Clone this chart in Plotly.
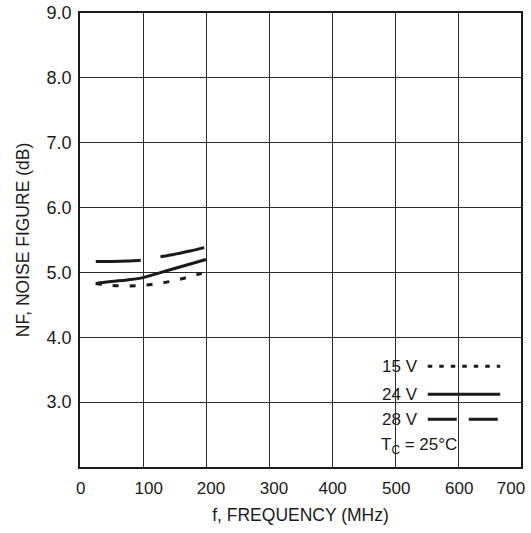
import plotly.graph_objects as go

# ---- data ----
freq_mhz = [25, 50, 75, 100, 125, 150, 175, 200]
nf_15v = [4.83, 4.80, 4.79, 4.80, 4.83, 4.875, 4.935, 5.01]
nf_24v = [4.83, 4.86, 4.885, 4.92, 4.99, 5.06, 5.13, 5.20]
nf_28v = [5.17, 5.17, 5.175, 5.19, 5.235, 5.28, 5.33, 5.39]
series_names = ["15 V", "24 V", "28 V"]
x_tick_vals = [0, 100, 200, 300, 400, 500, 600, 700]
x_tick_text = ["0", "100", "200", "300", "400", "500", "600", "700"]
y_tick_vals = [3, 4, 5, 6, 7, 8, 9]
y_tick_text = ["3.0", "4.0", "5.0", "6.0", "7.0", "8.0", "9.0"]

FONT = "Liberation Sans, Arial, sans-serif"
INK = "#1a1a1a"
FS = 17

dashes = ["6px,11px", "solid", "45px,20px"]
legend_dashes = ["4.5px,7px", "solid", "29px,12px"]
series = [nf_15v, nf_24v, nf_28v]

fig = go.Figure()
for name, vals, d in zip(series_names, series, dashes):
    fig.add_trace(go.Scatter(
        x=freq_mhz, y=vals, mode="lines", name=name,
        line=dict(color=INK, width=3, dash=d, shape="spline"),
        showlegend=False, hoverinfo="skip"))

# invisible helper trace on the label axis so it renders
fig.add_trace(go.Scatter(x=[None], y=[None], xaxis="x2", yaxis="y",
                         showlegend=False, hoverinfo="skip"))

# white box behind the legend block (hides grid lines)
fig.add_shape(type="rect", xref="x", yref="y", x0=466, x1=692, y0=2.12, y1=3.72,
              fillcolor="white", line=dict(width=0), layer="below")
fig.add_shape(type="rect", xref="x", yref="y", x0=466, x1=540, y0=3.6, y1=3.92,
              fillcolor="white", line=dict(width=0), layer="below")

# legend rows: text + line sample
leg_y = [3.554, 3.123, 2.738]
for name, yy, d in zip(series_names, leg_y, legend_dashes):
    fig.add_annotation(x=540, y=yy, xref="x", yref="y", text=name, showarrow=False,
                       xanchor="right", yanchor="middle",
                       font=dict(family=FONT, size=FS, color=INK))
    fig.add_shape(type="line", xref="x", yref="y", x0=552, x1=667, y0=yy, y1=yy,
                  line=dict(color=INK, width=3, dash=d), layer="above")
fig.add_annotation(x=474, y=2.32, xref="x", yref="y",
                   text="T<sub>C</sub> = 25°C", showarrow=False,
                   xanchor="left", yanchor="middle",
                   font=dict(family=FONT, size=FS, color=INK))

fig.update_layout(
    width=531, height=533,
    margin=dict(l=80, r=10, t=13, b=66, autoexpand=False),
    paper_bgcolor="white", plot_bgcolor="white",
    font=dict(family=FONT, size=FS, color=INK),
    showlegend=False,
    xaxis=dict(
        range=[0, 700], tickvals=x_tick_vals, showticklabels=False, ticks="",
        showgrid=True, gridcolor="#2a2a2a", gridwidth=1, automargin=False,
        showline=True, linecolor=INK, linewidth=1.5, mirror=True, zeroline=False,
        title=dict(text="f, FREQUENCY (MHz)", standoff=41, font=dict(size=17.5)),
    ),
    # label-only axis: the printed tick labels sit slightly off the grid lines
    xaxis2=dict(
        overlaying="x", side="bottom", matches="x", range=[0, 700],
        tickvals=[1, 109, 208, 308, 401, 502, 602, 684], ticktext=x_tick_text,
        ticks="", showgrid=False, showline=False, zeroline=False, automargin=False,
        ticklabelstandoff=9, tickfont=dict(size=FS), ticklabeloverflow="allow",
    ),
    yaxis=dict(
        range=[2, 9], tickvals=y_tick_vals, ticktext=y_tick_text, ticks="",
        ticklabelstandoff=3, automargin=False, ticklabeloverflow="allow",
        showgrid=True, gridcolor="#2a2a2a", gridwidth=1,
        showline=True, linecolor=INK, linewidth=1.5, mirror=True, zeroline=False,
        title=dict(text="NF, NOISE FIGURE (dB)", standoff=12, font=dict(size=17.5)),
        tickfont=dict(size=18),
    ),
)

# remove the default page margin so the figure fills the window exactly
fig.write_html("out.html",
               config={"displayModeBar": False},
               post_script="document.body.style.margin='0';document.body.style.overflow='hidden';")
